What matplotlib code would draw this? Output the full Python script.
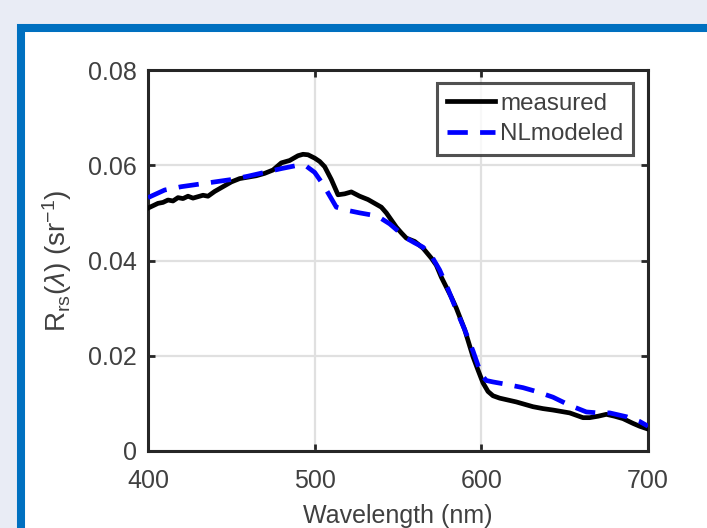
import matplotlib
matplotlib.use("Agg")
import matplotlib.pyplot as plt
from matplotlib.patches import Rectangle

# ---- data ----
measured_wl = [400, 403, 406, 409, 412, 415, 418, 421, 424, 427,
               430, 433, 436, 440, 445, 450, 455, 460, 465, 470,
               475, 480, 485, 490, 493, 496, 500, 503, 506, 510,
               514, 518, 522, 527, 532, 536, 540, 543, 546, 549,
               552, 555, 560, 565, 570, 573, 576, 579, 582, 585,
               590, 595, 598, 601, 604, 607, 611, 616, 621, 626,
               631, 637, 643, 648, 653, 657, 661, 665, 670, 675,
               680, 685, 691, 695, 700]
measured_rrs = [0.0510, 0.0515, 0.0520, 0.0522, 0.0527, 0.0525, 0.0532, 0.0530, 0.0535, 0.0531,
                0.0534, 0.0537, 0.0535, 0.0545, 0.0555, 0.0565, 0.0572, 0.0575, 0.0578, 0.0583,
                0.0590, 0.0605, 0.0610, 0.0620, 0.0623, 0.0622, 0.0615, 0.0608, 0.0597, 0.0570,
                0.0538, 0.0540, 0.0544, 0.0535, 0.0528, 0.0520, 0.0512, 0.0500, 0.0485, 0.0470,
                0.0458, 0.0447, 0.0440, 0.0426, 0.0405, 0.0390, 0.0365, 0.0344, 0.0323, 0.0300,
                0.0255, 0.0198, 0.0170, 0.0143, 0.0125, 0.0116, 0.0111, 0.0107, 0.0103, 0.0098,
                0.0093, 0.0089, 0.0086, 0.0083, 0.0080, 0.0075, 0.0070, 0.0070, 0.0073, 0.0077,
                0.0073, 0.0068, 0.0058, 0.0052, 0.0046]

modeled_wl = [400, 410, 420, 430, 440, 450, 460, 470, 480, 490,
              495, 500, 505, 510, 513, 520, 527, 535, 540, 545,
              550, 555, 560, 565, 570, 575, 580, 585, 590, 595,
              600, 603, 607, 615, 625, 633, 643, 653, 663, 670,
              677, 687, 695, 700]
modeled_rrs = [0.0532, 0.0548, 0.0555, 0.0560, 0.0565, 0.0570, 0.0577, 0.0585, 0.0593, 0.0600,
               0.0598, 0.0585, 0.0560, 0.0530, 0.0512, 0.0505, 0.0500, 0.0495, 0.0488, 0.0477,
               0.0462, 0.0447, 0.0437, 0.0428, 0.0410, 0.0380, 0.0340, 0.0296, 0.0255, 0.0210,
               0.0160, 0.0148, 0.0145, 0.0140, 0.0133, 0.0125, 0.0113, 0.0096, 0.0082, 0.0080,
               0.0080, 0.0072, 0.0062, 0.0052]

xticks = [400, 500, 600, 700]
yticks = [0, 0.02, 0.04, 0.06, 0.08]
ytick_labels = ["0", "0.02", "0.04", "0.06", "0.08"]
series_labels = ["measured", "NLmodeled"]

# ---- style ----
plt.rcParams['font.family'] = ['Liberation Sans', 'DejaVu Sans']
plt.rcParams['mathtext.fontset'] = 'custom'
plt.rcParams['mathtext.rm'] = 'Liberation Sans'
plt.rcParams['mathtext.it'] = 'Liberation Sans:italic'
text_color = '#404040'
spine_color = '#262626'

W, H = 707, 528
fig = plt.figure(figsize=(W / 100, H / 100), dpi=100)
fig.patch.set_facecolor('#e9ecf5')

# blue frame
frame = Rectangle((20.5 / W, -0.1), 1.2, 1 - 27.5 / H + 0.1,
                  transform=fig.transFigure, facecolor='white',
                  edgecolor='#0070c0', linewidth=5.8, zorder=0)
fig.add_artist(frame)

ax = fig.add_axes([148 / W, 1 - 451 / H, 500 / W, 381 / H])
ax.set_facecolor('white')

ax.plot(measured_wl, measured_rrs, color='black', linewidth=3.4,
        label=series_labels[0], zorder=3, solid_joinstyle='round')
ax.plot(modeled_wl, modeled_rrs, color='#0000ff', linewidth=3.4,
        dashes=(4.3, 2.6), label=series_labels[1], zorder=4)

ax.set_xlim(400, 700)
ax.set_ylim(0, 0.08)
ax.set_xticks(xticks)
ax.set_yticks(yticks)
ax.set_yticklabels(ytick_labels)
ax.grid(True, color='#e0e0e0', linewidth=1.6, zorder=1)
ax.set_axisbelow(True)

ax.tick_params(direction='in', length=5, width=2, colors=spine_color,
               top=True, right=True, labelsize=18, labelcolor=text_color, pad=8)
ax.tick_params(axis='x', pad=13)
for s in ax.spines.values():
    s.set_color(spine_color)
    s.set_linewidth(2.2)

ax.set_xlabel('Wavelength (nm)', fontsize=18, color=text_color, labelpad=8)
ax.set_ylabel(r'R$_{\mathrm{rs}}$($\lambda$) (sr$^{-1}$)', fontsize=20,
              color=text_color, labelpad=10)

leg = ax.legend(loc='upper right', bbox_to_anchor=(0.97, 0.966),
                borderaxespad=0, fontsize=17.4, handlelength=2.0,
                handletextpad=0.2, labelspacing=0.35, borderpad=0.4,
                frameon=True, fancybox=False)
leg.get_frame().set_edgecolor(spine_color)
leg.get_frame().set_linewidth(2.2)
for t in leg.get_texts():
    t.set_color(text_color)

fig.savefig('out.png', dpi=100, facecolor=fig.get_facecolor())
